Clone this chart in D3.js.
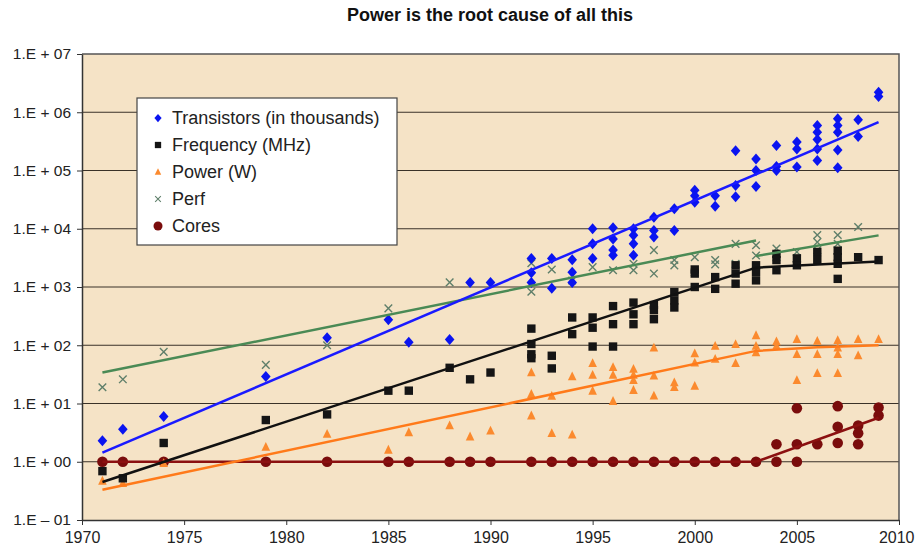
<!DOCTYPE html>
<html>
<head>
<meta charset="utf-8">
<script src="https://cdn.jsdelivr.net/npm/d3@7.9.0/dist/d3.min.js"></script>
<style>
  body { margin: 0; background: #fff; }
  svg { display: block; font-family: Arial, "Liberation Sans", sans-serif; }
</style>
</head>
<body>
<svg id="chart" width="915" height="554"></svg>
<script>
// values: [year, value]
const transistors = [
  [1971, 2.3], [1972, 3.6], [1974, 6], [1979, 29], [1982, 134],
  [1985, 275], [1986, 113], [1988, 125], [1989, 1200], [1990, 1200],
  [1992, 3100], [1992, 1760], [1992, 1200], [1993, 3100], [1993, 950],
  [1994, 2950], [1994, 1800], [1994, 1200],
  [1995, 10000], [1995, 5500], [1995, 3100],
  [1996, 10400], [1996, 6700], [1996, 4300], [1996, 3500],
  [1997, 10000], [1997, 7700], [1997, 5500], [1997, 3500],
  [1998, 15800], [1998, 9300], [1998, 7200],
  [1999, 22000], [1999, 9300],
  [2000, 45700], [2000, 37000], [2000, 28600],
  [2001, 37000], [2001, 24300],
  [2002, 219000], [2002, 55000], [2002, 35600],
  [2003, 158000], [2003, 100000], [2003, 53000],
  [2004, 268000], [2004, 117000], [2004, 100000],
  [2005, 307000], [2005, 235000], [2005, 115000],
  [2006, 590000], [2006, 455000], [2006, 340000], [2006, 235000], [2006, 148000],
  [2007, 770000], [2007, 590000], [2007, 455000], [2007, 225000], [2007, 111000],
  [2008, 740000], [2008, 383000],
  [2009, 2200000], [2009, 1860000]
];

const frequency = [
  [1971, 0.69], [1972, 0.52], [1974, 2.1], [1979, 5.2], [1982, 6.5],
  [1985, 16.6], [1986, 16.6], [1988, 41], [1989, 26], [1990, 34],
  [1992, 193], [1992, 105], [1992, 70], [1992, 60],
  [1993, 66], [1993, 40],
  [1994, 300], [1994, 155],
  [1995, 300], [1995, 200], [1995, 95],
  [1996, 470], [1996, 230], [1996, 95],
  [1997, 540], [1997, 340], [1997, 230],
  [1998, 490], [1998, 400], [1998, 280],
  [1999, 820], [1999, 590], [1999, 445],
  [2000, 2000], [2000, 1700], [2000, 1000],
  [2001, 1480], [2001, 930],
  [2002, 2360], [2002, 1700], [2002, 1140],
  [2003, 2360], [2003, 1820], [2003, 1300],
  [2004, 3700], [2004, 2900], [2004, 1940],
  [2005, 3100], [2005, 2360],
  [2006, 4000], [2006, 2900],
  [2007, 4200], [2007, 3250], [2007, 2500], [2007, 1380],
  [2008, 3250], [2009, 2900]
];

const power = [
  [1971, 0.47], [1972, 0.43], [1974, 0.94], [1979, 1.8], [1982, 3.0],
  [1985, 1.6], [1986, 3.2], [1988, 4.2], [1989, 2.7], [1990, 3.4],
  [1992, 34], [1992, 14.5], [1992, 6.2],
  [1993, 13.5], [1993, 3.1],
  [1994, 29], [1994, 2.9],
  [1995, 49], [1995, 31], [1995, 16.5],
  [1996, 42], [1996, 31], [1996, 11],
  [1997, 39], [1997, 31], [1997, 25], [1997, 17],
  [1998, 91], [1998, 30], [1998, 13.6],
  [1999, 23], [1999, 19],
  [2000, 72], [2000, 50], [2000, 20],
  [2001, 97], [2001, 58],
  [2002, 104], [2002, 49],
  [2003, 148], [2003, 97], [2003, 75],
  [2004, 116], [2004, 97],
  [2005, 127], [2005, 70], [2005, 25],
  [2006, 118], [2006, 70], [2006, 33],
  [2007, 122], [2007, 91], [2007, 70], [2007, 33],
  [2008, 127], [2008, 67],
  [2009, 127]
];

const perf = [
  [1971, 19], [1972, 26], [1974, 77], [1979, 46], [1982, 100],
  [1985, 430], [1988, 1200],
  [1992, 2550], [1992, 830], [1993, 2000], [1994, 1290],
  [1995, 2190], [1996, 1940], [1997, 1940], [1997, 2500],
  [1998, 4300], [1998, 1700],
  [1999, 2900], [1999, 2350],
  [2000, 3250], [2000, 1800],
  [2001, 2900], [2001, 2450],
  [2002, 5500], [2002, 2500],
  [2003, 5200], [2003, 3470],
  [2004, 4570], [2004, 3250],
  [2005, 4000], [2005, 3100],
  [2006, 7800], [2006, 5900], [2006, 4300],
  [2007, 7800], [2007, 5500], [2007, 4300],
  [2008, 10700]
];

const cores = [
  [1971, 1], [1972, 1], [1974, 1], [1979, 1], [1982, 1], [1985, 1], [1986, 1],
  [1988, 1], [1989, 1], [1990, 1], [1992, 1], [1993, 1], [1994, 1], [1995, 1],
  [1996, 1], [1997, 1], [1998, 1], [1999, 1], [2000, 1], [2001, 1], [2002, 1],
  [2003, 1], [2004, 1], [2004, 2], [2005, 1], [2005, 2], [2005, 8.3],
  [2006, 2], [2007, 9], [2007, 4], [2007, 2.1],
  [2008, 4.2], [2008, 3.1], [2008, 2], [2009, 8.5], [2009, 6.2]
];

// trend lines (segments between read-off end values)
const trendTransistors = [[[1971, 1.43], [2009, 676000]]];
const trendFrequency = [[[1971, 0.45], [2003, 2150]], [[2003, 2150], [2009, 2750]]];
const trendPower = [[[1971, 0.33], [2003, 80], [2006, 92], [2009, 100]]];
const trendPerf = [[[1971, 34], [2003, 6300]], [[2003, 3400], [2009, 7700]]];
const trendCores = [[[1971, 1], [2003, 1]], [[2003, 1], [2009, 5.7]]];

const yTicks = [1e-1, 1, 10, 100, 1e3, 1e4, 1e5, 1e6, 1e7];
const xTicks = [1970, 1975, 1980, 1985, 1990, 1995, 2000, 2005, 2010];
const legendNames = ['Transistors (in thousands)', 'Frequency (MHz)', 'Power (W)', 'Perf', 'Cores'];

const svg = d3.select('#chart');
const plotLeft = 82, plotRight = 899, plotTop = 54, plotBottom = 520;

const x = d3.scaleLinear().domain([1970, 2010]).range([plotLeft, plotRight]);
const y = d3.scaleLog().domain([0.1, 1e7]).range([plotBottom, plotTop]);

// title
svg.append('text')
  .attr('x', 490).attr('y', 21)
  .attr('text-anchor', 'middle')
  .attr('font-size', 18).attr('font-weight', 'bold')
  .attr('fill', '#111')
  .text('Power is the root cause of all this');

// plot background
svg.append('rect')
  .attr('x', plotLeft).attr('y', plotTop)
  .attr('width', plotRight - plotLeft).attr('height', plotBottom - plotTop)
  .attr('fill', '#f5e3c6');

// gridlines
svg.append('g')
  .selectAll('line')
  .data(yTicks.slice(1, -1))
  .join('line')
  .attr('x1', plotLeft).attr('x2', plotRight)
  .attr('y1', d => y(d)).attr('y2', d => y(d))
  .attr('stroke', '#3a3228').attr('stroke-width', 1.2);

// frame (top & right)
svg.append('path')
  .attr('d', `M${plotLeft},${plotTop}H${plotRight}V${plotBottom}`)
  .attr('fill', 'none').attr('stroke', '#555').attr('stroke-width', 1.5);

// axes
function fmtExp(d) {
  const e = Math.round(Math.log10(d));
  const s = String(Math.abs(e)).padStart(2, '0');
  return e < 0 ? `1.E \u2013 ${s}` : `1.E + ${s}`;
}

const yAxis = svg.append('g')
  .attr('transform', `translate(${plotLeft},0)`)
  .call(d3.axisLeft(y).tickValues(yTicks).tickFormat(fmtExp).tickSize(5).tickSizeOuter(0).tickPadding(6));

const xAxis = svg.append('g')
  .attr('transform', `translate(0,${plotBottom})`)
  .call(d3.axisBottom(x).tickValues(xTicks).tickFormat(d3.format('d')).tickSize(5).tickSizeOuter(0).tickPadding(7));

[yAxis, xAxis].forEach(a => {
  a.select('.domain').attr('stroke', '#333').attr('stroke-width', 1.5);
  a.selectAll('.tick line').attr('stroke', '#333');
  a.selectAll('.tick text').attr('fill', '#222')
    .attr('font-family', 'Arial, "Liberation Sans", sans-serif');
});
yAxis.selectAll('.tick text').attr('font-size', 15.5);
xAxis.selectAll('.tick text').attr('font-size', 16);
// keep the last year label inside the picture
xAxis.selectAll('.tick text').filter(d => d === 2010)
  .attr('text-anchor', 'end').attr('x', 914 - plotRight);

// marker shapes
const shapes = {
  diamond: 'M0,-5.5L4.8,0L0,5.5L-4.8,0Z',
  square: 'M-4.2,-4.2H4.2V4.2H-4.2Z',
  triangle: 'M0,-5L4.3,3.8H-4.3Z',
  cross: 'M-3.8,-3.8L3.8,3.8M3.8,-3.8L-3.8,3.8',
  circle: 'M-5.3,0A5.3,5.3 0 1,0 5.3,0A5.3,5.3 0 1,0 -5.3,0Z'
};

const series = [
  { pts: transistors, trend: trendTransistors, shape: 'diamond', color: '#0a14f0', line: '#1a1aff' },
  { pts: frequency, trend: trendFrequency, shape: 'square', color: '#151515', line: '#111' },
  { pts: power, trend: trendPower, shape: 'triangle', color: '#fb8a2e', line: '#ff7a1a' },
  { pts: perf, trend: trendPerf, shape: 'cross', color: '#5f7f6a', line: '#4a8a55' },
  { pts: cores, trend: trendCores, shape: 'circle', color: '#7a0c0c', line: '#8b1010' }
];

const lineGen = d3.line().x(d => x(d[0])).y(d => y(d[1]));

function drawMarkers(g, s, pts) {
  g.selectAll('path')
    .data(pts)
    .join('path')
    .attr('transform', d => `translate(${x(d[0])},${y(d[1])})`)
    .attr('d', shapes[s.shape])
    .attr('fill', s.shape === 'cross' ? 'none' : s.color)
    .attr('stroke', s.shape === 'cross' ? s.color : 'none')
    .attr('stroke-width', 1.4);
}

// draw in reverse so transistors end up on top
series.slice().reverse().forEach(s => {
  const g = svg.append('g');
  drawMarkers(g, s, s.pts);
});
series.slice().reverse().forEach(s => {
  svg.append('g').selectAll('path')
    .data(s.trend)
    .join('path')
    .attr('d', lineGen)
    .attr('fill', 'none')
    .attr('stroke', s.line)
    .attr('stroke-width', 2.5);
});

// legend
const lg = svg.append('g').attr('transform', 'translate(137,98)');
lg.append('rect')
  .attr('width', 260).attr('height', 147)
  .attr('fill', '#fff').attr('stroke', '#444').attr('stroke-width', 1.2);

const items = lg.selectAll('g.item')
  .data(series)
  .join('g')
  .attr('class', 'item')
  .attr('transform', (d, i) => `translate(21,${20 + i * 27})`);

items.append('path')
  .attr('d', d => shapes[d.shape])
  .attr('transform', d => d.shape === 'circle' ? 'scale(0.85)' : 'scale(0.75)')
  .attr('fill', d => d.shape === 'cross' ? 'none' : d.color)
  .attr('stroke', d => d.shape === 'cross' ? d.color : 'none')
  .attr('stroke-width', 1.4);

items.append('text')
  .attr('x', 14).attr('dy', '0.36em')
  .attr('font-size', 18).attr('fill', '#222')
  .text((d, i) => legendNames[i]);
</script>
</body>
</html>
